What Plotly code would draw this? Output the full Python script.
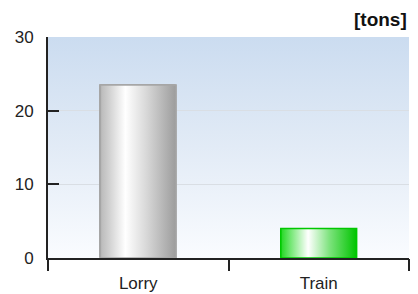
import plotly.graph_objects as go

categories = ["Lorry", "Train"]
values = [23.5, 4.0]
y_ticks = [0, 10, 20, 30]
unit_label = "[tons]"

bar_width = 0.42
x_pos = list(range(len(categories)))
boundaries = [i - 0.5 for i in x_pos] + [x_pos[-1] + 0.5]

edge_colors = ["#a6a6a6", "#00c800"]
mid_colors = ["#d8d8d8", "#66e066"]
gradients = [
    [[0, "#b9b9b9"], [0.1, "#cdcdcd"], [0.33, "#ffffff"], [0.6, "#d9d9d9"], [1, "#9c9c9c"]],
    [[0, "#22d822"], [0.12, "#6ee66e"], [0.36, "#ffffff"], [0.65, "#7ae27a"], [1, "#00c400"]],
]

fig = go.Figure()

# base bars
fig.add_trace(go.Bar(
    x=x_pos, y=values, width=bar_width,
    marker=dict(color=mid_colors, line=dict(color=edge_colors, width=1)),
    hoverinfo="skip", showlegend=False,
))

# gradient overlay on each bar, built from the same values
for i, v in enumerate(values):
    x0, x1 = x_pos[i] - bar_width / 2, x_pos[i] + bar_width / 2
    fig.add_trace(go.Scatter(
        x=[x0, x1, x1, x0, x0], y=[0, 0, v, v, 0],
        mode="lines", fill="toself",
        fillgradient=dict(type="horizontal", colorscale=gradients[i]),
        line=dict(color=edge_colors[i], width=1.5),
        hoverinfo="skip", showlegend=False,
    ))

# helper trace for boundary-tick axis
fig.add_trace(go.Scatter(x=[boundaries[0]], y=[0], xaxis="x2", mode="markers",
                         marker=dict(opacity=0), hoverinfo="skip", showlegend=False))

bg_svg = (
    "data:image/svg+xml;utf8,"
    "<svg xmlns='http://www.w3.org/2000/svg' width='10' height='100' preserveAspectRatio='none'>"
    "<defs><linearGradient id='g' x1='0' y1='0' x2='0' y2='1'>"
    "<stop offset='0' stop-color='%23cbdcf0'/>"
    "<stop offset='0.5' stop-color='%23e2ebf6'/>"
    "<stop offset='1' stop-color='%23fafcff'/>"
    "</linearGradient></defs>"
    "<rect width='10' height='100' fill='url(%23g)'/></svg>"
)

font = dict(family="Liberation Sans, Arial, sans-serif", size=17, color="#222222")

fig.update_layout(
    width=418, height=294,
    margin=dict(l=48, r=9, t=37, b=36, autoexpand=False),
    paper_bgcolor="white",
    plot_bgcolor="rgba(0,0,0,0)",
    showlegend=False,
    bargap=0,
    images=[dict(source=bg_svg, xref="paper", yref="paper", x=0, y=1,
                 sizex=1, sizey=1, sizing="stretch", layer="below",
                 xanchor="left", yanchor="top")],
    xaxis=dict(
        range=[boundaries[0], boundaries[-1]],
        tickvals=x_pos, ticktext=categories,
        ticks="", showgrid=False, zeroline=False,
        showline=True, linecolor="#222222", linewidth=2,
        tickfont=font, ticklabelstandoff=9, automargin=False,
        fixedrange=True,
    ),
    xaxis2=dict(
        overlaying="x", anchor="y", side="bottom",
        range=[boundaries[0], boundaries[-1]],
        tickvals=boundaries, showticklabels=False,
        ticks="outside", ticklen=12, tickwidth=2, tickcolor="#222222",
        showgrid=False, zeroline=False, showline=False, automargin=False,
    ),
    yaxis=dict(
        range=[0, 30], tickvals=y_ticks,
        ticks="inside", ticklen=11, tickwidth=2, tickcolor="#222222",
        showline=True, linecolor="#222222", linewidth=2,
        showgrid=True, gridcolor="#d9dee4", gridwidth=1,
        zeroline=False, tickfont=font, ticklabelstandoff=9, automargin=False,
        fixedrange=True,
    ),
    annotations=[dict(
        text="<b>" + unit_label + "</b>", xref="paper", yref="paper",
        x=1, y=1, xanchor="right", yanchor="bottom", yshift=5,
        showarrow=False,
        font=dict(family="Liberation Sans, Arial, sans-serif", size=19, color="#111111"),
    )],
)

fig.write_html(
    "out.html",
    config={"displayModeBar": False},
    post_script="document.body.style.margin='0';document.body.style.overflow='hidden';",
)
